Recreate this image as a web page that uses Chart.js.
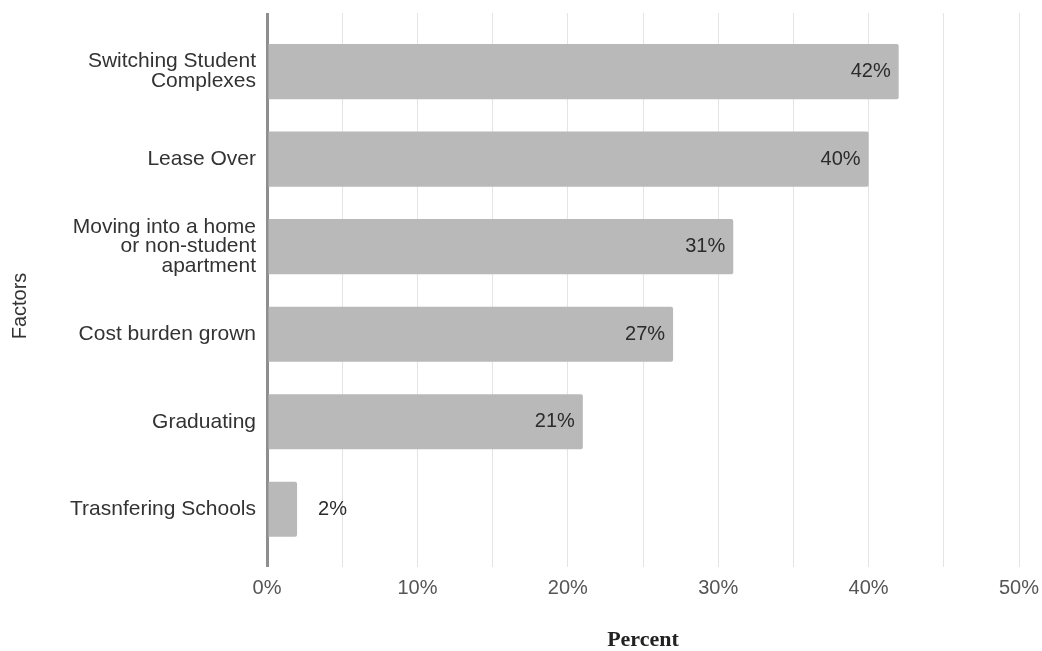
<!DOCTYPE html>
<html>
<head>
<meta charset="utf-8">
<title>Factors</title>
<script src="https://cdn.jsdelivr.net/npm/chart.js@4.4.1/dist/chart.umd.min.js"></script>
<style>
  html, body { margin: 0; padding: 0; background: #fff; }
  #wrap { width: 1042px; height: 651px; }
</style>
</head>
<body>
<div id="wrap"><canvas id="barChart" width="1042" height="651"></canvas></div>
<script>
// category labels, already wrapped into lines
const categories = [
  ['Switching Student', 'Complexes'],
  ['Lease Over'],
  ['Moving into a home', 'or non-student', 'apartment'],
  ['Cost burden grown'],
  ['Graduating'],
  ['Trasnfering Schools']
];
const percents = [42, 40, 31, 27, 21, 2];
const xTicks = [0, 10, 20, 30, 40, 50];

const labelFont = '"Liberation Sans", Arial, sans-serif';

// value labels at the end of each bar (inside when there's room)
const barLabels = {
  id: 'barLabels',
  afterDatasetsDraw(chart) {
    const ctx = chart.ctx;
    const meta = chart.getDatasetMeta(0);
    ctx.save();
    ctx.font = '20px ' + labelFont;
    ctx.fillStyle = '#2b2b2b';
    ctx.textBaseline = 'middle';
    meta.data.forEach((bar, i) => {
      const v = percents[i];
      if (v > 5) {
        ctx.textAlign = 'right';
        ctx.fillText(v + '%', bar.x - 8, bar.y);
      } else {
        ctx.textAlign = 'left';
        ctx.fillText(v + '%', bar.x + 21, bar.y);
      }
    });
    ctx.restore();
  }
};

// "Factors" sits a bit below the middle of the plot
const yTitle = {
  id: 'yTitle',
  afterDraw(chart) {
    const ctx = chart.ctx;
    ctx.save();
    ctx.translate(20, 306);
    ctx.rotate(-Math.PI / 2);
    ctx.font = '20px ' + labelFont;
    ctx.fillStyle = '#333';
    ctx.textAlign = 'center';
    ctx.textBaseline = 'middle';
    ctx.fillText('Factors', 0, 0);
    ctx.restore();
  }
};

new Chart(document.getElementById('barChart'), {
  type: 'bar',
  data: {
    datasets: [{
      label: 'Percent',
      data: percents.map((v, i) => ({ x: v, y: i })),
      backgroundColor: '#b9b9b9',
      borderRadius: 2,
      barPercentage: 0.63,
      categoryPercentage: 1
    }]
  },
  options: {
    indexAxis: 'y',
    responsive: false,
    animation: false,
    layout: { padding: { left: 0, top: 13, right: 23, bottom: 0 } },
    plugins: {
      legend: { display: false },
      tooltip: { enabled: false }
    },
    scales: {
      x: {
        type: 'linear',
        min: 0,
        max: 50,
        afterFit(scale) {
          scale.height = 84;
          scale.paddingLeft = 0;
          scale.paddingRight = 0;
        },
        border: { display: false },
        grid: {
          drawTicks: false,
          color: c => (c.tick && c.tick.value === 0) ? '#8e8e8e' : '#e4e4e4',
          lineWidth: c => (c.tick && c.tick.value === 0) ? 3 : 1
        },
        ticks: {
          stepSize: 5,
          padding: 9,
          color: '#555',
          font: { family: labelFont, size: 20 },
          callback: v => xTicks.includes(v) ? v + '%' : ''
        },
        title: {
          display: true,
          text: 'Percent',
          color: '#222',
          padding: 0,
          font: { family: '"Liberation Serif", "Times New Roman", serif', size: 22, weight: 'bold', lineHeight: 1 }
        }
      },
      y: {
        type: 'linear',
        reverse: true,
        min: -0.67,
        max: 5.66,
        offset: false,
        afterFit(scale) {
          scale.width = 267;
          scale.paddingTop = 0;
          scale.paddingBottom = 0;
        },
        afterBuildTicks(scale) {
          scale.ticks = categories.map((_, i) => ({ value: i }));
        },
        border: { display: false },
        grid: { display: false, drawTicks: false, offset: false },
        ticks: {
          autoSkip: false,
          padding: 11,
          color: '#333',
          font: { family: labelFont, size: 21, lineHeight: 0.95 },
          callback: v => categories[v] || ''
        }
      }
    }
  },
  plugins: [barLabels, yTitle]
});
</script>
</body>
</html>
